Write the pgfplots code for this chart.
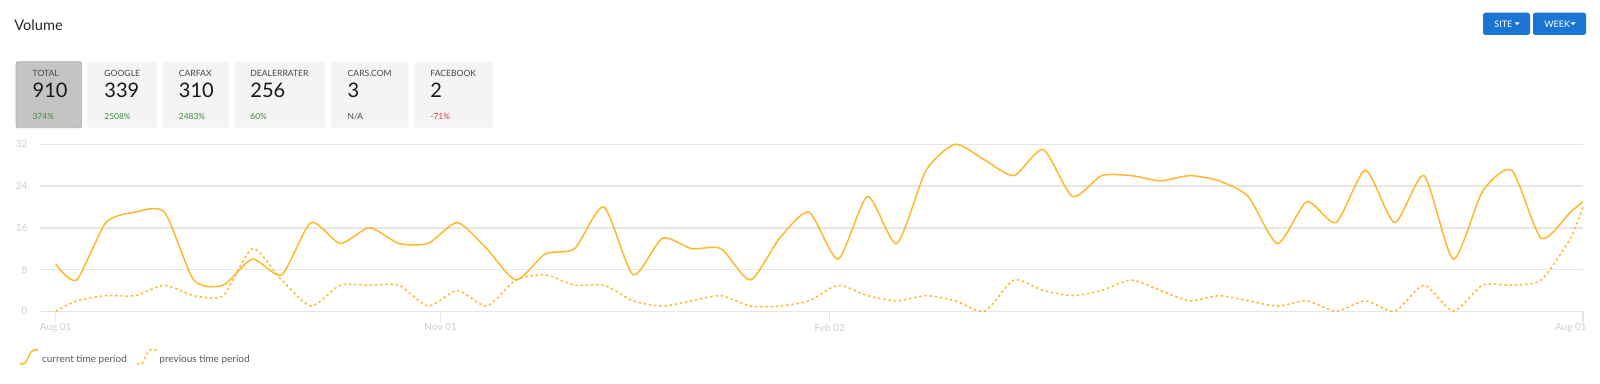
\documentclass[border=0pt]{standalone}
\usepackage{fontspec}
\setmainfont{Lato}
\usepackage{pgfplots}
\usepackage{pgfplotstable}
\pgfplotsset{compat=1.18}

\definecolor{lineorange}{RGB}{255,183,44}
\definecolor{gridgray}{RGB}{230,230,230}
\definecolor{ticklab}{RGB}{205,205,205}
\definecolor{cardbg}{RGB}{244,244,244}
\definecolor{cardsel}{RGB}{196,196,196}
\definecolor{cardselborder}{RGB}{178,178,178}
\definecolor{btnblue}{RGB}{26,118,210}
\definecolor{pctgreen}{RGB}{62,140,62}
\definecolor{pctred}{RGB}{228,52,52}
\definecolor{labgray}{RGB}{70,70,70}
\definecolor{leggray}{RGB}{88,88,88}

% day (Aug 01 = 0), value
\pgfplotstableread{
day val
0 9
5 6
12 17
19 19
26 19
33 6
40 5
47 10
54 7
61 17
68 13
75 16
82 13
89 13
96 17
103 12
110 6
117 11
124 12
131 20
138 7
145 14
152 12
159 12
166 6
173 14
180 19
187 10
194 22
201 13
208 27
215 32
222 29
229 26
236 31
243 22
250 26
257 26
264 25
271 26
278 25
285 22
292 13
299 21
306 17
313 27
320 17
327 26
334 10
341 23
348 27
355 14
362 19
365 21
}\currentdata

\pgfplotstableread{
day val
0 0
5 2
12 3
19 3
26 5
33 3
40 3
47 12
54 6
61 1
68 5
75 5
82 5
89 1
96 4
103 1
110 6
117 7
124 5
131 5
138 2
145 1
152 2
159 3
166 1
173 1
180 2
187 5
194 3
201 2
208 3
215 2
222 0
229 6
236 4
243 3
250 4
257 6
264 4
271 2
278 3
285 2
292 1
299 2
306 0
313 2
320 0
327 5
334 0
341 5
348 5
355 6
362 14
365 20
}\previousdata

\newcommand{\fs}[1]{\fontsize{#1}{#1}\selectfont}

\begin{document}
\begin{tikzpicture}
\path[use as bounding box] (0,0) rectangle (800pt,-192pt);

\begin{scope}[x=0.5pt,y=-0.5pt]
  % title
  \node[anchor=base west, inner sep=0pt, text=black!85] at (14,30.7) {\fs{7.3pt}Volume};
  % buttons
  \fill[btnblue, rounded corners=1.2pt] (1483,12.7) rectangle (1530,35);
  \fill[btnblue, rounded corners=1.2pt] (1533,12.7) rectangle (1586,35);
  \node[anchor=base west, inner sep=0pt, text=white] at (1494,28) {\fs{4.5pt}SITE};
  \node[anchor=base west, inner sep=0pt, text=white] at (1544,28) {\fs{4.5pt}WEEK};
  \fill[white] (1514.5,22.5) -- (1519.5,22.5) -- (1517,25) -- cycle;
  \fill[white] (1570.5,22.5) -- (1575.5,22.5) -- (1573,25) -- cycle;
  % cards
  \filldraw[fill=cardsel, draw=cardselborder, line width=0.4pt, rounded corners=1pt] (16,61.7) rectangle (81.7,127.7);
  \fill[cardbg, rounded corners=1pt] (87.3,61.7) rectangle (156.7,127.7);
  \fill[cardbg, rounded corners=1pt] (162.3,61.7) rectangle (228.7,127.7);
  \fill[cardbg, rounded corners=1pt] (234.3,61.7) rectangle (325,127.7);
  \fill[cardbg, rounded corners=1pt] (331,61.7) rectangle (408.3,127.7);
  \fill[cardbg, rounded corners=1pt] (414.3,61.7) rectangle (492.7,127.7);
  \foreach \xx/\lab/\num/\pct/\pc in {32.3/TOTAL/910/374\%/pctgreen, 104/GOOGLE/339/2508\%/pctgreen, 178.5/CARFAX/310/2483\%/pctgreen, 250/DEALERRATER/256/60\%/pctgreen, 347.3/CARS.COM/3/{N/A}/labgray, 430/FACEBOOK/2/-71\%/pctred}{
    \node[anchor=base west, inner sep=0pt, text=labgray] at (\xx,76.7) {\fs{4.3pt}\lab};
    \node[anchor=base west, inner sep=0pt, text=black!90] at (\xx,97.3) {\fs{10pt}\num};
    \node[anchor=base west, inner sep=0pt, text=\pc] at (\xx,120) {\fs{4.2pt}\pct};
  }
  % legend
  \draw[lineorange, line width=0.75pt, rounded corners=1pt] (20,364) -- (25,364) -- (32,350) -- (38,350);
  \node[anchor=base west, inner sep=0pt, text=leggray] at (41.7,363) {\fs{5pt}current time period};
  \draw[lineorange, line width=0.75pt, dash pattern=on 1.2pt off 1.4pt] (137,364) -- (142,364) -- (149,350) -- (157,350);
  \node[anchor=base west, inner sep=0pt, text=leggray] at (159,363) {\fs{5pt}previous time period};
\end{scope}

\begin{axis}[
  at={(20pt,-155.65pt)}, anchor=south west,
  scale only axis, width=771.5pt, height=83.5pt,
  xmin=-3.75, xmax=365, ymin=0, ymax=32,
  clip=false,
  axis x line*=bottom, axis y line*=left, axis line style={draw=none},
  ymajorgrids, major grid style={gridgray, line width=0.75pt},
  ytick={0,8,16,24,32},
  xtick={0,92,185}, xticklabels={Aug 01,Nov 01,Feb 02},
  extra x ticks={365}, extra x tick labels={Aug 01},
  extra x tick style={xticklabel style={anchor=north east, xshift=2pt}},
  tick align=outside,
  major tick length=5.5pt,
  xtick style={gridgray, line width=0.6pt},
  ytick style={draw=none},
  /pgf/number format/assume math mode=true,
  tick label style={font=\fs{5pt}, text=ticklab, inner sep=0pt},
  xticklabel style={yshift=-0.5pt},
  yticklabel style={xshift=-0.6pt},
]
\addplot[lineorange, line width=0.75pt, smooth, tension=0.4] table[x=day, y=val] {\currentdata};
\addplot[lineorange, line width=0.75pt, smooth, tension=0.4, dash pattern=on 1.2pt off 1.4pt] table[x=day, y=val] {\previousdata};
\end{axis}
\end{tikzpicture}
\end{document}
